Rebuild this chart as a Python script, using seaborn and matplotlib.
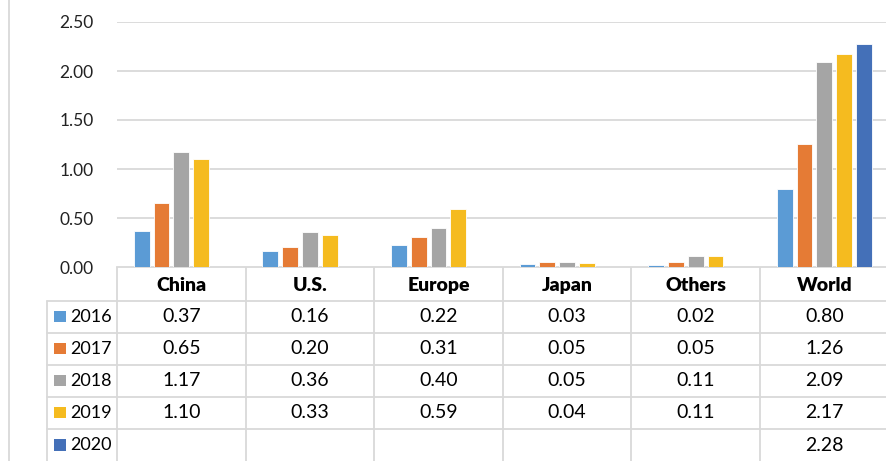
import matplotlib
matplotlib.use("Agg")
import matplotlib.pyplot as plt
import matplotlib.transforms as mtransforms
import seaborn as sns
import pandas as pd
import numpy as np

# data
regions = ["China", "U.S.", "Europe", "Japan", "Others", "World"]
years = ["2016", "2017", "2018", "2019", "2020"]
v2016 = [0.37, 0.16, 0.22, 0.03, 0.02, 0.80]
v2017 = [0.65, 0.20, 0.31, 0.05, 0.05, 1.26]
v2018 = [1.17, 0.36, 0.40, 0.05, 0.11, 2.09]
v2019 = [1.10, 0.33, 0.59, 0.04, 0.11, 2.17]
v2020 = [None, None, None, None, None, 2.28]
yticks = [0.0, 0.5, 1.0, 1.5, 2.0, 2.5]

colors = ["#5B9BD5", "#E57B35", "#A5A5A5", "#F5BB1F", "#4470B8"]
grid_c = "#d9d9d9"

series = [v2016, v2017, v2018, v2019, v2020]
rows = []
for yr, vals in zip(years, series):
    for reg, v in zip(regions, vals):
        rows.append({"region": reg, "year": yr, "value": v})
df = pd.DataFrame(rows)

sns.set_style("white")
plt.rcParams["font.family"] = ["Lato", "DejaVu Sans"]

W, H = 887, 461
fig = plt.figure(figsize=(W / 100, H / 100), dpi=100)

# bar area
x0, y_top, y_zero, col_w = 117, 22, 267, 128.6
ax = fig.add_axes([x0 / W, (H - y_zero) / H, 6 * col_w / W, (y_zero - y_top) / H])
sns.barplot(data=df, x="region", y="value", hue="year", order=regions,
            hue_order=years, palette=colors, saturation=1, width=0.77, gap=0.2,
            edgecolor="white", linewidth=0.6, ax=ax, legend=False)
ax.set_xlim(-0.5, 5.5)
ax.set_ylim(0, 2.5)
ax.set_yticks(yticks)
ax.set_yticklabels([f"{t:.2f}" for t in yticks], fontsize=12.5, color="#222222")
ax.set_xticks([])
ax.set_xlabel("")
ax.set_ylabel("")
ax.tick_params(axis="y", length=0, pad=17)
for s in ax.spines.values():
    s.set_visible(False)
ax.yaxis.grid(True, color=grid_c, linewidth=1.3)
ax.set_axisbelow(True)

# overlay in pixel coordinates for the data table
tab = fig.add_axes([0, 0, 1, 1], zorder=-1)
tab.set_xlim(0, W)
tab.set_ylim(H, 0)
tab.axis("off")
tab.patch.set_alpha(0)

# x in bar-axis data coordinates, y in pixels
tr = mtransforms.blended_transform_factory(ax.transData, tab.transData)

lw = 1.3
tab.plot([9, 9], [0, H], color=grid_c, lw=lw)
tab.plot([x0, W], [y_zero, y_zero], color=grid_c, lw=lw)
row_edges = [300.5, 332.5, 364.5, 396.5, 428.8]
for ry in row_edges:
    tab.plot([47, W], [ry, ry], color=grid_c, lw=lw)
tab.plot([47, 47], [row_edges[0], H], color=grid_c, lw=lw)
for i in range(6):
    xl = x0 + i * col_w
    tab.plot([xl, xl], [y_zero, H], color=grid_c, lw=lw)

# header
header_y = (y_zero + row_edges[0]) / 2 + 2
for i, reg in enumerate(regions):
    fig.text(i, header_y, reg, transform=tr, ha="center", va="center",
             fontsize=14, fontweight="heavy", color="black")

# rows
row_centers = [(a + b) / 2 for a, b in zip(row_edges, row_edges[1:] + [H + 1])]
for yr, vals, c, ry in zip(years, series, colors, row_centers):
    tab.add_patch(plt.Rectangle((54.5, ry - 6), 11.5, 11.5, color=c, lw=0))
    tab.text(70, ry, yr, ha="left", va="center", fontsize=13, color="black")
    for i, v in enumerate(vals):
        if v is not None:
            fig.text(i, ry, f"{v:.2f}", transform=tr, ha="center", va="center",
                     fontsize=14, color="black")

fig.savefig("out.png", dpi=100, facecolor="white")
